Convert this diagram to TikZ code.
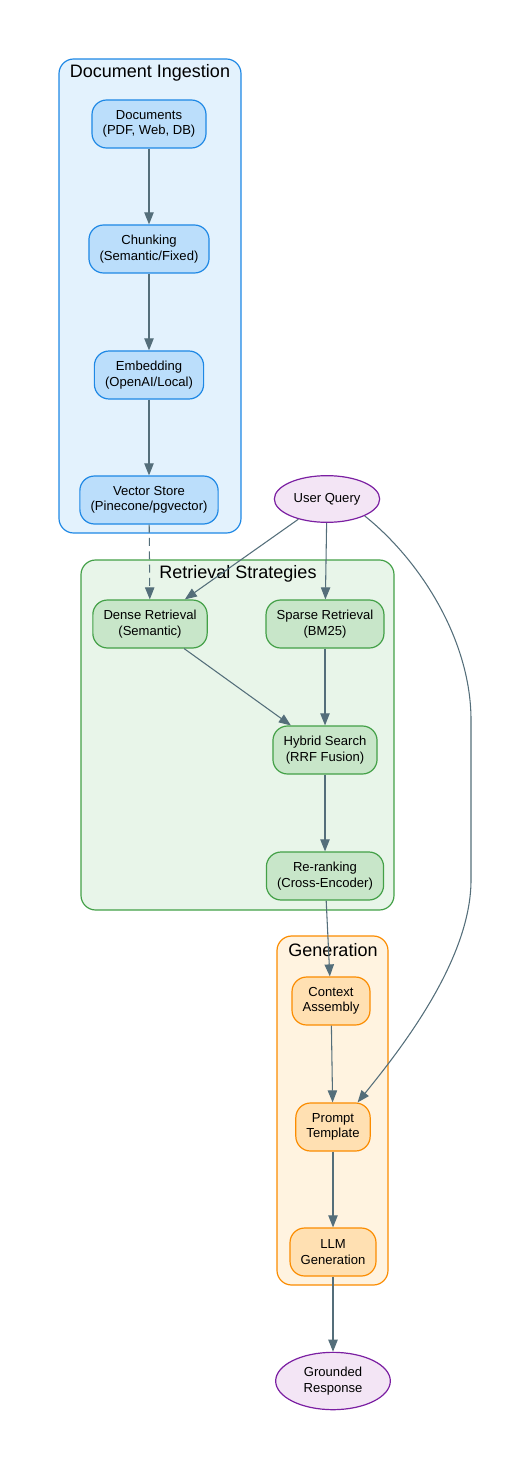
\documentclass[tikz,border=0pt]{standalone}
\usepackage{fontspec}
\setmainfont{Liberation Sans}
\usepackage{xcolor}
\usetikzlibrary{arrows.meta,calc,positioning,shapes.geometric}

\definecolor{ingfill}{HTML}{E3F2FD}
\definecolor{ingline}{HTML}{1E88E5}
\definecolor{ingnode}{HTML}{BBDEFB}
\definecolor{retfill}{HTML}{E8F5E9}
\definecolor{retline}{HTML}{43A047}
\definecolor{retnode}{HTML}{C8E6C9}
\definecolor{genfill}{HTML}{FFF3E0}
\definecolor{genline}{HTML}{FB8C00}
\definecolor{gennode}{HTML}{FFE0B2}
\definecolor{endfill}{HTML}{F3E5F5}
\definecolor{endline}{HTML}{7B1FA2}
\definecolor{edgecol}{HTML}{546E7A}

\begin{document}
\begin{tikzpicture}[x=0.75pt,y=-0.75pt,
		box/.style={draw,rounded corners=11pt,line width=0.9pt,minimum height=36pt,inner xsep=8pt,align=center,font=\fontsize{9.8}{11.5}\selectfont},
		ingbox/.style={box,draw=ingline,fill=ingnode},
		retbox/.style={box,draw=retline,fill=retnode},
		genbox/.style={box,draw=genline,fill=gennode},
		endpt/.style={ellipse,draw=endline,fill=endfill,line width=0.9pt,inner sep=0pt,align=center,font=\fontsize{9.8}{11.5}\selectfont},
		group/.style={rounded corners=11pt,line width=0.9pt},
		title/.style={font=\fontsize{13.5}{15}\selectfont},
		edge/.style={draw=edgecol,line width=0.8pt,-{Triangle[length=9pt,width=7pt]}}]
		\useasboundingbox (0,0) rectangle (520,1458);
		% clusters
		\draw[group,draw=ingline,fill=ingfill] (59,59) rectangle (241,533);
		\node[title] (ingtitle) at (150,73) {Document Ingestion};
		\draw[group,draw=retline,fill=retfill] (81,560) rectangle (394,910);
		\node[title] (rettitle) at (238,574) {Retrieval Strategies};
		\draw[group,draw=genline,fill=genfill] (277,936) rectangle (388,1285);
		\node[title] (gentitle) at (333,950) {Generation};
		% ingestion
		\node[ingbox] (docs) at (149,124) {Documents\\(PDF, Web, DB)};
		\node[ingbox] (chunk) at (149,249) {Chunking\\(Semantic/Fixed)};
		\node[ingbox] (embed) at (149,375) {Embedding\\(OpenAI/Local)};
		\node[ingbox] (vstore) at (149,500) {Vector Store\\(Pinecone/pgvector)};
		\node[endpt,minimum width=79pt,minimum height=35pt] (uq) at (327,499) {User Query};
		% retrieval
		\node[retbox] (dense) at (150,624) {Dense Retrieval\\(Semantic)};
		\node[retbox] (sparse) at (325,624) {Sparse Retrieval\\(BM25)};
		\node[retbox] (hybrid) at (325,750) {Hybrid Search\\(RRF Fusion)};
		\node[retbox] (rerank) at (325,876) {Re-ranking\\(Cross-Encoder)};
		% generation
		\node[genbox] (ctx) at (331,1001) {Context\\Assembly};
		\node[genbox] (prompt) at (333,1127) {Prompt\\Template};
		\node[genbox] (llm) at (333,1252) {LLM\\Generation};
		\node[endpt,minimum width=86pt,minimum height=43pt] (resp) at (333,1381) {Grounded\\Response};
		% edges
		\draw[edge] (docs) -- (chunk);
		\draw[edge] (chunk) -- (embed);
		\draw[edge] (embed) -- (vstore);
		\draw[edge,dashed,dash pattern=on 6pt off 4pt] (vstore) -- (dense);
		\draw[edge] (uq) -- (dense);
		\draw[edge] (uq) -- (sparse);
		\draw[edge] (uq.south east) .. controls (420,560) and (471,640) .. (471,720) -- (471,880) .. controls (471,960) and (400,1050) .. (prompt.45);
		\draw[edge] (dense) -- (hybrid);
		\draw[edge] (sparse) -- (hybrid);
		\draw[edge] (hybrid) -- (rerank);
		\draw[edge] (rerank) -- (ctx);
		\draw[edge] (ctx) -- (prompt);
		\draw[edge] (prompt) -- (llm);
		\draw[edge] (llm) -- (resp);
\end{tikzpicture}
\end{document}
